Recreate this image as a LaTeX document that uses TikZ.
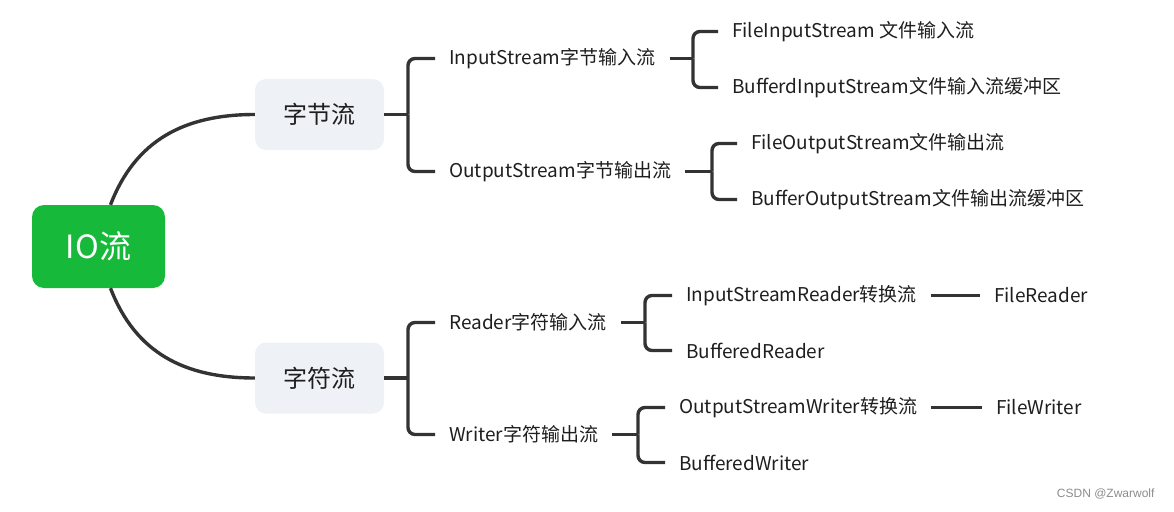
\documentclass[tikz,border=0pt]{standalone}
\usepackage{fontspec}
\setmainfont{Noto Sans CJK SC}
\newfontfamily\markfont{Liberation Sans}
\usepackage{xcolor}
\usepackage{tikz}
\usetikzlibrary{calc}
\definecolor{iogreen}{HTML}{17B93B}
\definecolor{boxgray}{HTML}{EEF1F5}
\definecolor{linegray}{HTML}{333333}
\definecolor{txtgray}{HTML}{1E1E1E}

\begin{document}
\begin{tikzpicture}[x=1pt,y=-1pt,
  link/.style={line width=3.4pt,linegray,rounded corners=7pt},
  leaf/.style={anchor=west,inner xsep=14pt,inner ysep=2pt,text=txtgray,font=\fontsize{19}{22}\selectfont},
  group/.style={rounded corners=11pt,fill=boxgray,minimum width=129pt,minimum height=71pt,text=txtgray,font=\fontsize{24}{28}\selectfont}]

\useasboundingbox (0,0) rectangle (1174,511);

% root and the two groups
\node[rounded corners=12pt,fill=iogreen,text=white,minimum width=133pt,minimum height=83pt,font=\fontsize{32}{36}\selectfont] (io) at (98.5,246.5) {IO流};
\node[group] (byte) at (319.5,114.5) {字节流};
\node[group] (char) at (319.5,378) {字符流};

% arcs from the root
\draw[link] ($(io.north)+(12,0)$) .. controls +(25,-65) and +(-70,0) .. (byte.west);
\draw[link] ($(io.south)+(12,0)$) .. controls +(25,65) and +(-70,0) .. (char.west);

% byte streams
\coordinate (jbyte) at (408,114.5);
\node[leaf] (instream) at (435,58.5) {InputStream字节输入流};
\node[leaf] (outstream) at (435,171.5) {OutputStream字节输出流};
\draw[link] (byte.east) -- (jbyte);
\draw[link] (jbyte) |- (instream.west);
\draw[link] (jbyte) |- (outstream.west);

\coordinate (jin) at (693,58.5);
\node[leaf] (fis) at (718,31.5) {FileInputStream 文件输入流};
\node[leaf] (bis) at (718,87.5) {BufferdInputStream文件输入流缓冲区};
\draw[link] (instream.east) -- (jin);
\draw[link] (jin) |- (fis.west);
\draw[link] (jin) |- (bis.west);

\coordinate (jout) at (712,171.5);
\node[leaf] (fos) at (737,143.5) {FileOutputStream文件输出流};
\node[leaf] (bos) at (737,199.5) {BufferOutputStream文件输出流缓冲区};
\draw[link] (outstream.east) -- (jout);
\draw[link] (jout) |- (fos.west);
\draw[link] (jout) |- (bos.west);

% char streams
\coordinate (jchar) at (408,378);
\node[leaf] (reader) at (435,322.5) {Reader字符输入流};
\node[leaf] (writer) at (435,434.5) {Writer字符输出流};
\draw[link] (char.east) -- (jchar);
\draw[link] (jchar) |- (reader.west);
\draw[link] (jchar) |- (writer.west);

\coordinate (jreader) at (645,322.5);
\node[leaf] (isr) at (672,295.5) {InputStreamReader转换流};
\node[leaf] (br) at (672,350.5) {BufferedReader};
\node[leaf] (fr) at (980,295.5) {FileReader};
\draw[link] (reader.east) -- (jreader);
\draw[link] (jreader) |- (isr.west);
\draw[link] (jreader) |- (br.west);
\draw[link] (isr.east) -- (fr.west);

\coordinate (jwriter) at (638,434.5);
\node[leaf] (osw) at (665,407.5) {OutputStreamWriter转换流};
\node[leaf] (bw) at (665,462.5) {BufferedWriter};
\node[leaf] (fw) at (982,407.5) {FileWriter};
\draw[link] (writer.east) -- (jwriter);
\draw[link] (jwriter) |- (osw.west);
\draw[link] (jwriter) |- (bw.west);
\draw[link] (osw.east) -- (fw.west);

% watermark
\node[anchor=east,text=black!45,font=\markfont\fontsize{12}{14}\selectfont] (mark) at (1158,494) {CSDN @Zwarwolf};
\end{tikzpicture}
\end{document}
